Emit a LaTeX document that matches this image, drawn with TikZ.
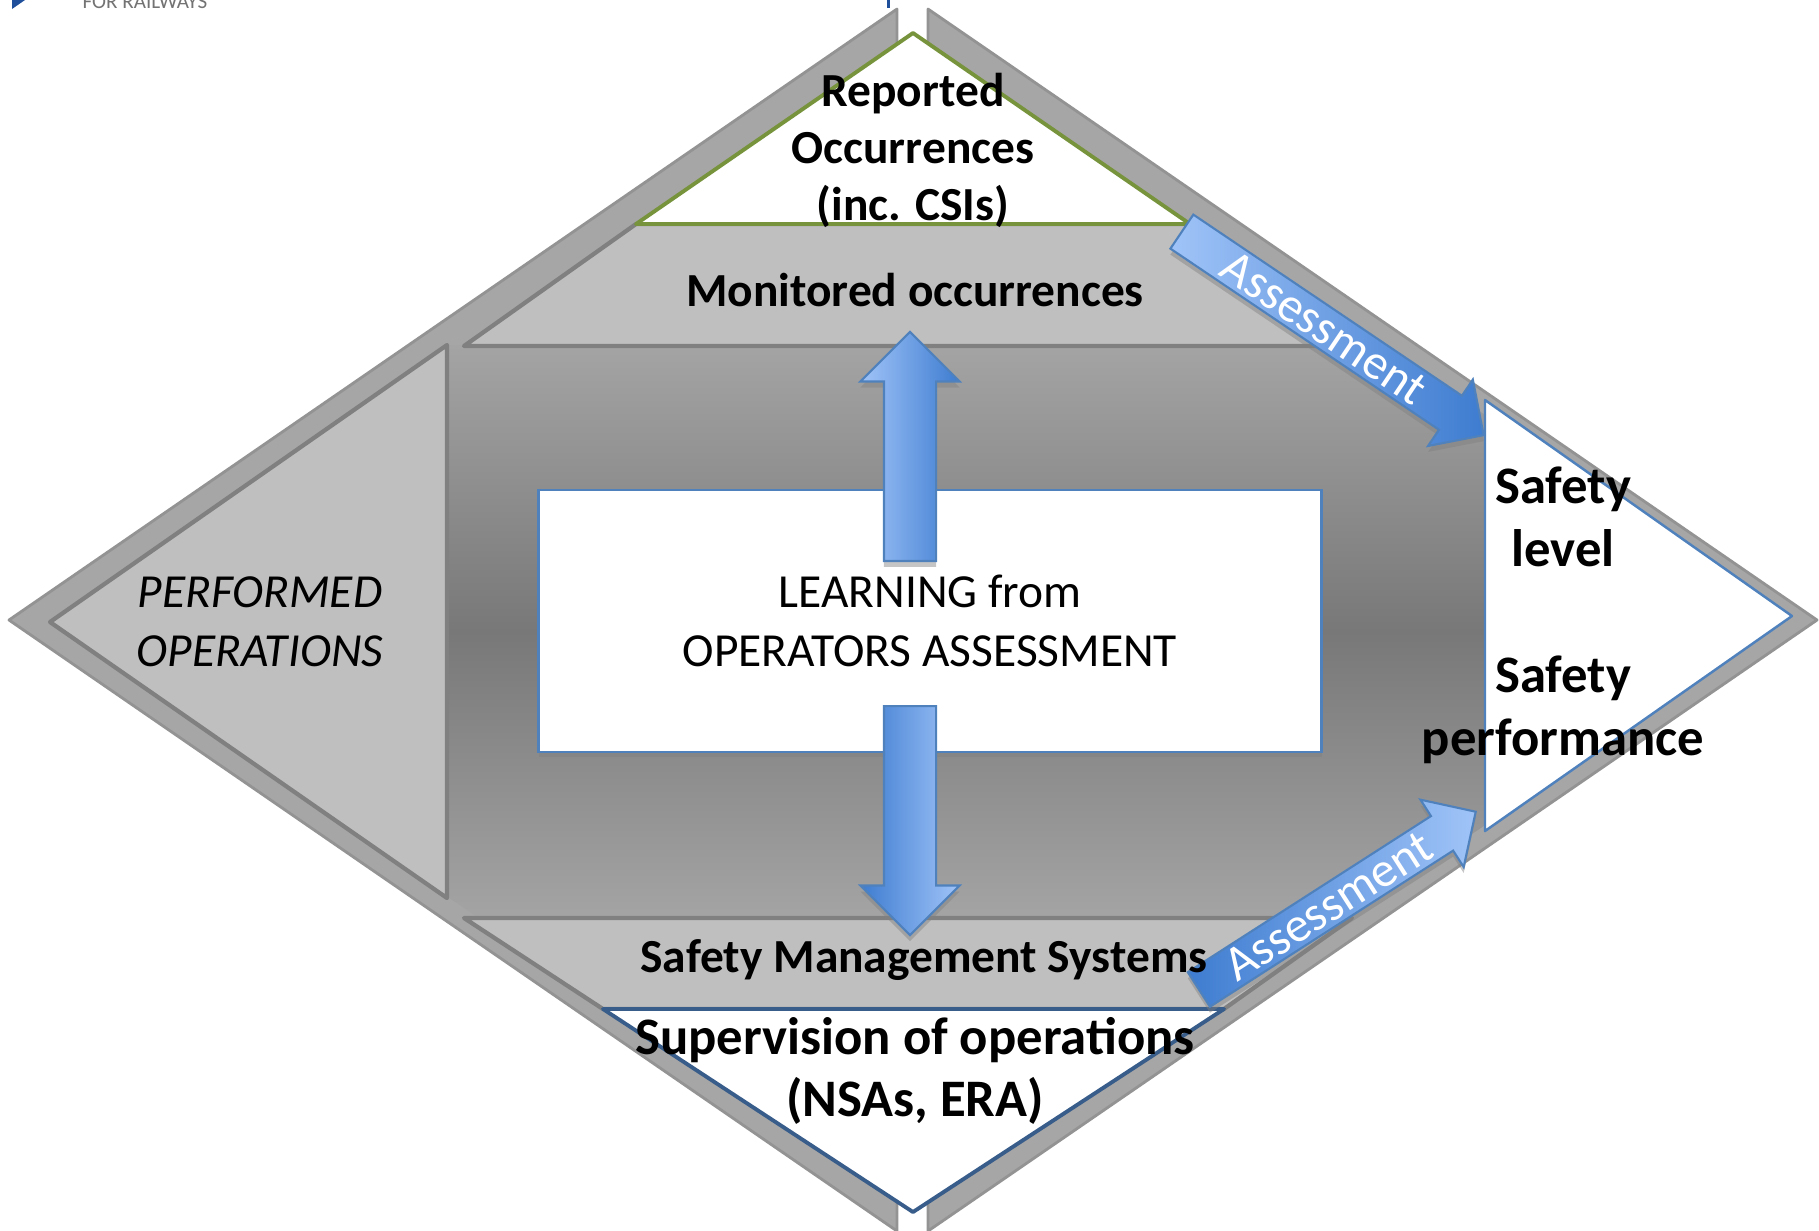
\documentclass[tikz,border=0pt]{standalone}
\usepackage{fontspec}
\setmainfont{Carlito}
\usepackage{tikz}
\usepackage{xcolor}
\usetikzlibrary{shapes.arrows, shadows, positioning}
\definecolor{eraFrame}{RGB}{166, 166, 166}
\definecolor{eraBand}{RGB}{191, 191, 191}
\definecolor{eraEdge}{RGB}{128, 128, 128}
\definecolor{eraDarkTop}{RGB}{164, 164, 164}
\definecolor{eraDarkMid}{RGB}{120, 120, 120}
\definecolor{eraGreen}{RGB}{119, 147, 60}
\definecolor{eraBlue}{RGB}{79, 129, 189}
\definecolor{eraNavy}{RGB}{56, 93, 138}
\definecolor{eraArrowLight}{RGB}{160, 196, 248}
\definecolor{eraArrowDark}{RGB}{62, 124, 208}
\definecolor{eraLogo}{RGB}{31, 78, 154}

\begin{document}
\begin{tikzpicture}[
        x=0.1mm, y=-0.1mm,
        frame/.style={fill=eraFrame, draw=eraEdge!85, line width=0.8pt, line join=round},
        band/.style={fill=eraBand, draw=eraEdge, line width=1.2pt, line join=round},
        boldtext/.style={font=\fontsize{13.5}{16.2}\selectfont\bfseries, align=center, inner sep=0pt},
        bigtext/.style={font=\fontsize{15}{17.8}\selectfont\bfseries, align=center, inner sep=0pt},
        learnbox/.style={rectangle, draw=eraBlue, line width=0.6pt, fill=white, minimum width=78.3mm, minimum height=26.2mm, align=center, font=\fontsize{13.5}{16.8}\selectfont, drop shadow={shadow xshift=0pt, shadow yshift=-0.5mm, opacity=0.5}},
        updown/.style={single arrow, draw=eraBlue, line width=0.6pt, minimum height=22.9mm, minimum width=9.7mm, single arrow head extend=2.35mm, inner xsep=0pt, inner ysep=2.5mm},
        assess/.style={single arrow, draw=eraBlue, line width=0.6pt, minimum width=7.8mm, single arrow head extend=1.95mm, inner xsep=0pt, inner ysep=0.35mm, text=white, font=\fontsize{14}{16}\selectfont},
        shadowed/.style={drop shadow={shadow xshift=0pt, shadow yshift=-0.6mm, opacity=0.45}}
    ]
        \useasboundingbox (0,0) rectangle (1819,1230);

        % Cut-off logo at the top
        \fill[eraLogo] (12,0) -- (25,0) -- (12,9) -- cycle;
        \fill[eraLogo] (887,0) rectangle (890,8);
        \node[font=\fontsize{6}{7}\selectfont, text=eraEdge!90!black, anchor=base west, inner sep=0pt] (logo) at (82,8) {FOR RAILWAYS};

        % Outer frame, two halves
        \draw[frame] (897,9) -- (9,620) -- (897,1231) -- cycle;
        \draw[frame] (928,9) -- (1817,620) -- (928,1231) -- cycle;

        % Dark middle area
        \begin{scope}
            \clip (913,30) -- (1790,620) -- (913,1210) -- (36,620) -- cycle;
            \shade[top color=eraDarkTop, bottom color=eraDarkTop, middle color=eraDarkMid] (440,345) rectangle (1490,918);
        \end{scope}

        % Grey layers
        \draw[band] (447,345) -- (447,898) -- (50,622) -- cycle;
        \draw[band] (636,224) -- (1190,224) -- (1372,346) -- (464,346) -- cycle;
        \draw[band] (464,918) -- (1352,918) -- (1224,1009) -- (603,1009) -- cycle;

        % White triangles
        \draw[fill=white, draw=eraGreen, line width=1.1pt, line join=round] (913,33) -- (1190,224) -- (636,224) -- cycle;
        \draw[fill=white, draw=eraNavy, line width=1.1pt, line join=round] (603,1009) -- (1224,1009) -- (913,1212) -- cycle;
        \draw[fill=white, draw=eraBlue, line width=0.7pt, line join=round] (1485,400) -- (1792,616) -- (1485,831) -- cycle;

        % Centre box
        \node[learnbox] (learning) at (930,621) {LEARNING from\\OPERATORS ASSESSMENT};

        % Block arrows
        \node[updown, shadowed, rotate=90, anchor=tail, left color=eraArrowLight, right color=eraArrowDark] (up) at (910,562) {};
        \node[updown, shadowed, rotate=-90, anchor=tail, left color=eraArrowDark, right color=eraArrowLight] (down) at (910,705) {};
        \node[assess, shadowed, minimum height=36.4mm, rotate=-34, anchor=tail, left color=eraArrowLight, right color=eraArrowDark] (assessTop) at (1181,231) {Assessment};
        \node[assess, shadowed, minimum height=32.9mm, rotate=32.7, anchor=tail, left color=eraArrowDark, right color=eraArrowLight] (assessBot) at (1198,990) {Assessment};

        % Texts
        \node[boldtext] (reported) at (913,150) {Reported\\Occurrences\\(inc. CSIs)};
        \node[boldtext] (monitored) at (915,290) {Monitored occurrences};
        \node[font=\fontsize{13.5}{16.8}\selectfont\itshape, align=center, inner sep=0pt] (performed) at (260,622) {PERFORMED\\OPERATIONS};
        \node[bigtext] (level) at (1563,517) {Safety\\level};
        \node[bigtext] (performance) at (1563,710) {Safety\\performance};
        \node[boldtext] (sms) at (924,960) {Safety Management Systems};
        \node[bigtext] (supervision) at (915,1071) {Supervision of operations\\(NSAs, ERA)};
    \end{tikzpicture}
\end{document}
